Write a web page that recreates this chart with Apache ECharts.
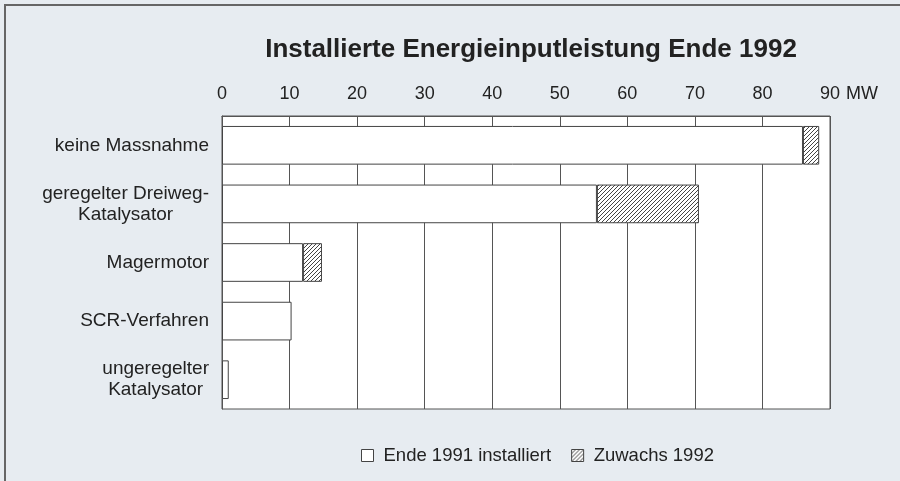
<!DOCTYPE html>
<html>
<head>
<meta charset="utf-8">
<script src="https://cdn.jsdelivr.net/npm/echarts@6/dist/echarts.min.js"></script>
<style>
  html, body { margin: 0; padding: 0; background: #e7ecf1; }
  #chart { width: 900px; height: 481px; }
</style>
</head>
<body>
<div id="chart"></div>
<script>
// Daten (MW)
var categories = ['keine Massnahme', 'geregelter Dreiweg-\nKatalysator', 'Magermotor', 'SCR-Verfahren', 'ungeregelter\nKatalysator']
var installiert1991 = [86.0, 55.5, 12.0, 10.3, 1.0]
var zuwachs1992 = [2.4, 15.1, 2.8, null, null]
var xTicks = { min: 0, max: 90, interval: 10 }

// Schraffur fuer Zuwachs
function makeHatch () {
  var c = document.createElement('canvas')
  c.width = 4
  c.height = 4
  var ctx = c.getContext('2d')
  ctx.fillStyle = '#fff'
  ctx.fillRect(0, 0, 4, 4)
  ctx.strokeStyle = '#444'
  ctx.lineWidth = 1
  ctx.beginPath()
  ctx.moveTo(0, 4); ctx.lineTo(4, 0)
  ctx.moveTo(-1, 1); ctx.lineTo(1, -1)
  ctx.moveTo(3, 5); ctx.lineTo(5, 3)
  ctx.stroke()
  return c
}

var textColor = '#222'
var font = 'Liberation Sans, Arial, sans-serif'

var option = {
  backgroundColor: '#e7ecf1',
  animation: false,
  title: {
    text: 'Installierte Energieinputleistung Ende 1992',
    left: 526,
    top: 32,
    textAlign: 'center',
    textStyle: {
      fontFamily: font,
      fontSize: 26,
      fontWeight: 'bold',
      color: textColor
    }
  },
  graphic: [{
    type: 'rect',
    shape: { x: 5, y: 5, width: 920, height: 500 },
    style: { fill: null, stroke: '#666', lineWidth: 2 },
    silent: true
  }],
  legend: {
    left: 356,
    top: 441,
    itemWidth: 12,
    itemHeight: 12,
    itemGap: 20,
    icon: 'rect',
    itemStyle: { borderColor: '#444', borderWidth: 1 },
    textStyle: { fontFamily: font, fontSize: 18.5, color: textColor, padding: [0, 0, 0, 5] },
    data: ['Ende 1991 installiert', 'Zuwachs 1992']
  },
  grid: {
    left: 222,
    right: 70,
    top: 116,
    bottom: 72,
    show: true,
    backgroundColor: '#fff',
    borderColor: '#555',
    borderWidth: 1
  },
  xAxis: {
    type: 'value',
    position: 'top',
    min: xTicks.min,
    max: xTicks.max,
    interval: xTicks.interval,
    name: 'MW',
    nameLocation: 'end',
    nameGap: 1,
    nameTextStyle: {
      fontFamily: font,
      fontSize: 18,
      color: textColor,
      align: 'left',
      verticalAlign: 'bottom',
      padding: [0, 0, 13, 0]
    },
    axisLine: { show: true, lineStyle: { color: '#555', width: 1 } },
    axisTick: { show: false },
    axisLabel: { fontFamily: font, fontSize: 18, color: textColor, margin: 13 },
    splitLine: { show: true, lineStyle: { color: '#555', width: 1 } }
  },
  yAxis: {
    type: 'category',
    inverse: true,
    data: categories,
    axisLine: { show: true, lineStyle: { color: '#555' } },
    axisTick: { show: false },
    axisLabel: {
      margin: 13,
      color: textColor,
      fontFamily: font,
      fontSize: 19,
      formatter: function (v) {
        return v.split('\n').map(function (s) { return '{c|' + s + '}' }).join('\n')
      },
      rich: {
        c: { align: 'center', fontFamily: font, fontSize: 19, lineHeight: 21, color: textColor }
      }
    }
  },
  series: [{
    name: 'Ende 1991 installiert',
    type: 'bar',
    stack: 'total',
    barCategoryGap: '34%',
    itemStyle: { color: '#fff', borderColor: '#444', borderWidth: 1 },
    data: installiert1991
  }, {
    name: 'Zuwachs 1992',
    type: 'bar',
    stack: 'total',
    itemStyle: { color: { image: makeHatch(), repeat: 'repeat' }, borderColor: '#444', borderWidth: 1 },
    data: zuwachs1992
  }]
}

var chart = echarts.init(document.getElementById('chart'))
chart.setOption(option)
</script>
</body>
</html>
